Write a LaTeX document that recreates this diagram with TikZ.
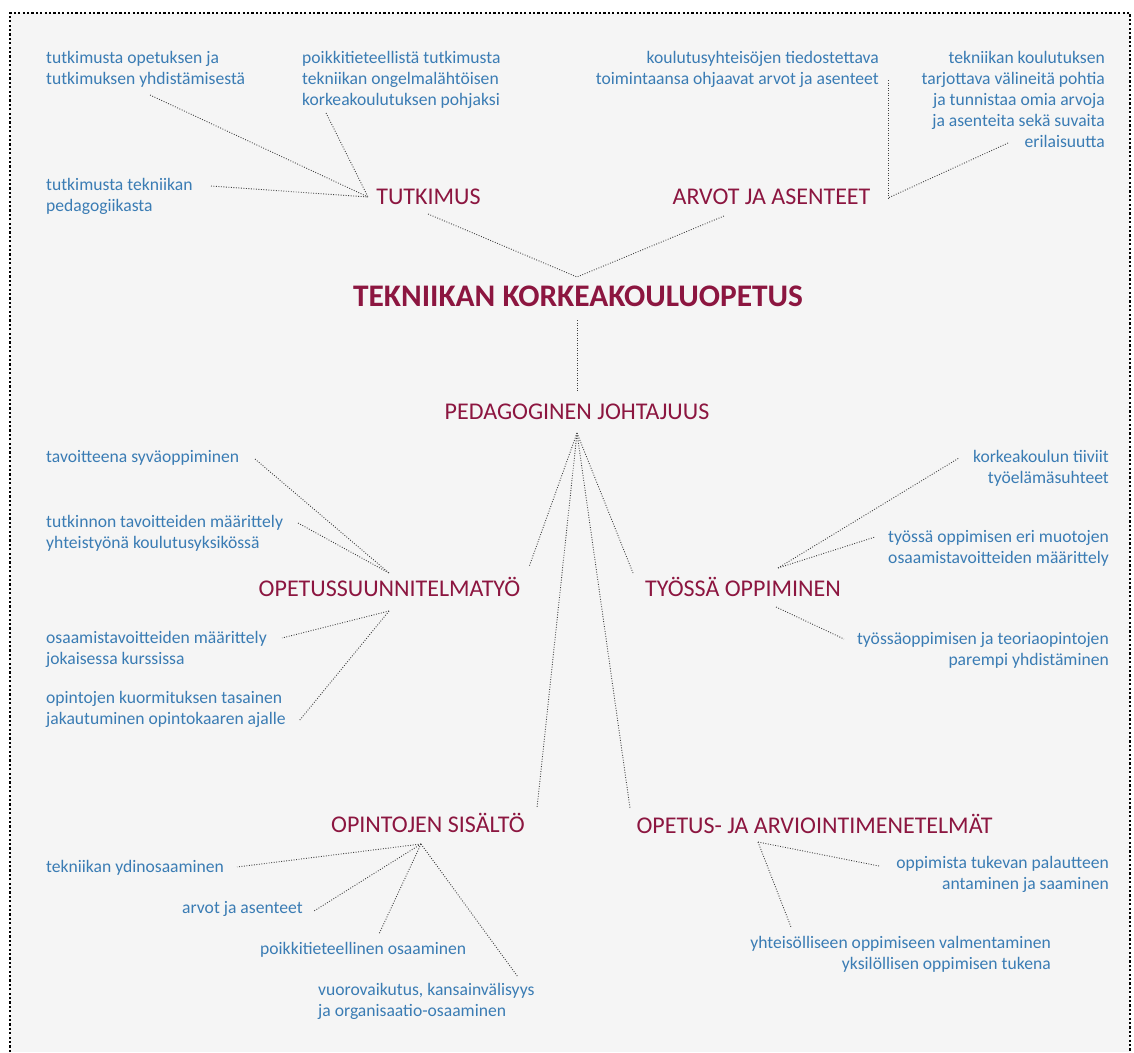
\documentclass[tikz,border=0pt]{standalone}
\usepackage{fontspec}
\setmainfont{Carlito}
\definecolor{txtblue}{RGB}{58,124,180}
\definecolor{maroon}{RGB}{140,22,64}
\begin{document}
\begin{tikzpicture}[x=1pt,y=-1pt,
  leaf/.style={text=txtblue, font=\fontsize{17.6}{21}\selectfont, inner sep=0pt},
  leafl/.style={leaf, anchor=base west, align=left},
  leafr/.style={leaf, anchor=base east, align=right},
  cat/.style={text=maroon, font=\fontsize{24}{28}\selectfont, inner sep=0pt, anchor=base},
  maintitle/.style={text=maroon, font=\fontsize{31.4}{36}\selectfont\bfseries, inner sep=0pt, anchor=base},
  link/.style={draw=black!75, line width=0.9pt, dash pattern=on 0.9pt off 1.6pt},
  frame/.style={draw=black, line width=2.4pt, dash pattern=on 2.2pt off 2.2pt},
]
\useasboundingbox (0,0) rectangle (1134,1052);
\fill[black!4] (10,13) rectangle (1130,1052);
\draw[frame] (10,1052) -- (10,13) -- (1130,13) -- (1130,1052);

% main nodes
\node[maintitle] (main) at (578,306) {TEKNIIKAN KORKEAKOULUOPETUS};
\node[cat] (tut) at (428.5,204) {TUTKIMUS};
\node[cat] (arv) at (771.5,204) {ARVOT JA ASENTEET};
\node[cat] (ped) at (577,419) {PEDAGOGINEN JOHTAJUUS};
\node[cat] (ops) at (389.5,596) {OPETUSSUUNNITELMATYÖ};
\node[cat] (tyo) at (743,596) {TYÖSSÄ OPPIMINEN};
\node[cat] (sis) at (428,832) {OPINTOJEN SISÄLTÖ};
\node[cat] (met) at (814.5,833) {OPETUS- JA ARVIOINTIMENETELMÄT};

% leaves (anchored at the baseline of their last line)
\node[leafl] (t1) at (46,84) {tutkimusta opetuksen ja\\tutkimuksen yhdistämisestä};
\node[leafl] (t2) at (302,105) {poikkitieteellistä tutkimusta\\tekniikan ongelmalähtöisen\\korkeakoulutuksen pohjaksi};
\node[leafl] (t3) at (46,211) {tutkimusta tekniikan\\pedagogiikasta};
\node[leafr] (a1) at (879,84) {koulutusyhteisöjen tiedostettava\\toimintaansa ohjaavat arvot ja asenteet};
\node[leafr] (a2) at (1105,147) {tekniikan koulutuksen\\tarjottava välineitä pohtia\\ja tunnistaa omia arvoja\\ja asenteita sekä suvaita\\erilaisuutta};
\node[leafl] (o1) at (46,462) {tavoitteena syväoppiminen};
\node[leafl] (o2) at (46,548) {tutkinnon tavoitteiden määrittely\\yhteistyönä koulutusyksikössä};
\node[leafl] (o3) at (46,664) {osaamistavoitteiden määrittely\\jokaisessa kurssissa};
\node[leafl] (o4) at (46,724) {opintojen kuormituksen tasainen\\jakautuminen opintokaaren ajalle};
\node[leafr] (w1) at (1109,483) {korkeakoulun tiiviit\\työelämäsuhteet};
\node[leafr] (w2) at (1109,563) {työssä oppimisen eri muotojen\\osaamistavoitteiden määrittely};
\node[leafr] (w3) at (1109,665) {työssäoppimisen ja teoriaopintojen\\parempi yhdistäminen};
\node[leafl] (s1) at (46,872) {tekniikan ydinosaaminen};
\node[leafl] (s2) at (182,913) {arvot ja asenteet};
\node[leafl] (s3) at (260,954) {poikkitieteellinen osaaminen};
\node[leafl] (s4) at (318,1016) {vuorovaikutus, kansainvälisyys\\ja organisaatio-osaaminen};
\node[leafr] (m1) at (1109,889) {oppimista tukevan palautteen\\antaminen ja saaminen};
\node[leafr] (m2) at (1051,969) {yhteisölliseen oppimiseen valmentaminen\\yksilöllisen oppimisen tukena};

% junction coordinates
\coordinate (main-n) at (577,277);
\coordinate (main-s) at (577,320);
\coordinate (ped-n) at (577,392);
\coordinate (ped-s) at (577,433);
\coordinate (tut-w) at (368,197);
\coordinate (tut-s) at (428,214);
\coordinate (arv-e) at (888,198);
\coordinate (arv-s) at (724,216);
\coordinate (ops-ne) at (529,567);
\coordinate (ops-n) at (389,573);
\coordinate (ops-s) at (389,611);
\coordinate (tyo-nw) at (633,573);
\coordinate (tyo-n) at (778,568);
\coordinate (tyo-s) at (776,607);
\coordinate (sis-ne) at (537,808);
\coordinate (sis-s) at (421,844);
\coordinate (met-nw) at (630,808);
\coordinate (met-s) at (758,842);
% leaf ends
\coordinate (t1-e) at (150,95);
\coordinate (t2-e) at (326,113);
\coordinate (t3-e) at (211,186);
\coordinate (a1-e) at (888,80);
\coordinate (a2-e) at (1008,143);
\coordinate (o1-e) at (255,459);
\coordinate (o2-e) at (298,523);
\coordinate (o3-e) at (282,638);
\coordinate (o4-e) at (299,721);
\coordinate (w1-e) at (959,458);
\coordinate (w2-e) at (875,537);
\coordinate (w3-e) at (844,639);
\coordinate (s1-e) at (237,867);
\coordinate (s2-e) at (314,911);
\coordinate (s3-e) at (379,934);
\coordinate (s4-e) at (518,977);
\coordinate (m1-e) at (879,866);
\coordinate (m2-e) at (791,927);

% connectors
\draw[link] (tut-s) -- (main-n) -- (arv-s);
\draw[link] (main-s) -- (ped-n);
\draw[link] (t1-e) -- (tut-w);
\draw[link] (t2-e) -- (tut-w);
\draw[link] (t3-e) -- (tut-w);
\draw[link] (a1-e) -- (arv-e);
\draw[link] (a2-e) -- (arv-e);
\draw[link] (ped-s) -- (ops-ne);
\draw[link] (ped-s) -- (tyo-nw);
\draw[link] (ped-s) -- (sis-ne);
\draw[link] (ped-s) -- (met-nw);
\draw[link] (o1-e) -- (ops-n);
\draw[link] (o2-e) -- (ops-n);
\draw[link] (ops-s) -- (o3-e);
\draw[link] (ops-s) -- (o4-e);
\draw[link] (tyo-n) -- (w1-e);
\draw[link] (tyo-n) -- (w2-e);
\draw[link] (tyo-s) -- (w3-e);
\draw[link] (sis-s) -- (s1-e);
\draw[link] (sis-s) -- (s2-e);
\draw[link] (sis-s) -- (s3-e);
\draw[link] (sis-s) -- (s4-e);
\draw[link] (met-s) -- (m1-e);
\draw[link] (met-s) -- (m2-e);
\end{tikzpicture}
\end{document}
